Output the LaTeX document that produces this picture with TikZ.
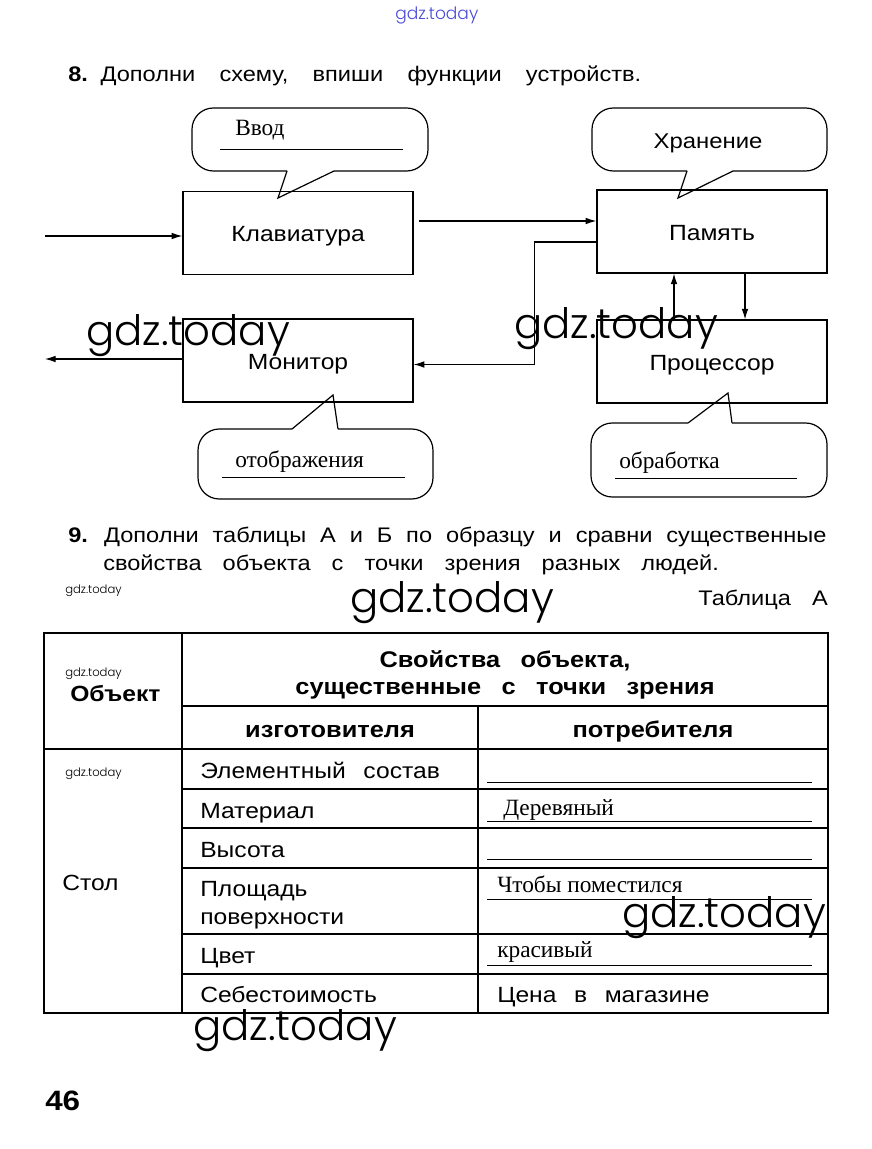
\documentclass[tikz,border=0pt]{standalone}
\usepackage{fontspec}
\setmainfont{Liberation Sans}[FakeStretch=1.12]
\newfontfamily\handfont{Liberation Serif}
\newfontfamily\wmfont{Poppins Light}
\usetikzlibrary{arrows.meta,positioning}
\definecolor{wmblue}{HTML}{4A4AD8}
\newcommand\widesp[1]{\spaceskip=#1em\relax}
\tikzset{
  devbox/.style={draw=black,line width=1.1pt,minimum width=172.5pt,minimum height=62pt,inner sep=0pt,text height=2.5ex,text depth=0pt,font=\fontsize{16.5}{20}\selectfont},
  flow/.style={-{Latex[length=8pt,width=5pt]},line width=.8pt},
  bubble/.style={line width=.9pt,rounded corners=16pt},
  ptr/.style={line width=.9pt},
  answer/.style={line width=.7pt},
  grid/.style={line width=1.1pt},
  task/.style={anchor=base west,inner sep=0pt,font={\fontsize{15.8}{19}\selectfont\widesp{1}}},
  cell/.style={anchor=base west,inner sep=0pt,font={\fontsize{16.5}{20}\selectfont\widesp{.8}}},
  head/.style={anchor=base,inner sep=0pt,font={\bfseries\fontsize{17}{20}\selectfont\widesp{.9}}},
  hand/.style={anchor=base west,inner sep=0pt,font={\handfont\fontsize{17.5}{20}\selectfont}},
  wmark/.style={anchor=base west,inner sep=0pt,font={\wmfont\fontsize{31.4}{34}\selectfont}},
  wsmall/.style={anchor=base west,inner sep=0pt,font={\wmfont\fontsize{8.7}{10}\selectfont}},
}

\begin{document}
\begin{tikzpicture}[x=0.75pt,y=-0.75pt]
  \useasboundingbox (0,0) rectangle (871,1149);
  % task 8: devices
  \node[wsmall,font={\wmfont\fontsize{12.8}{14}\selectfont},text=wmblue] (wtop) at (395,20) {gdz.today};
  \node[task,font={\fontsize{15.8}{19}\selectfont\widesp{1.15}}] (t8) at (68,82) {\textbf{8.}\hspace{.6em}Дополни схему, впиши функции устройств.};
  \node[devbox] (kbd) at (298,233) {Клавиатура};
  \node[devbox] (mon) at (298,360.5) {Монитор};
  \node[devbox] (mem) at (712,231.5) {Память};
  \node[devbox] (cpu) at (712,361.5) {Процессор};
  \coordinate (kin) at (45,236);
  \coordinate (mout) at (45,359);
  \draw[flow] (kin) -- (kin -| kbd.west);
  \draw[flow] (mout -| mon.west) -- (mout);
  \draw[flow] ([shift={(5,-12)}]kbd.east) -- ([shift={(0,-10.5)}]mem.west);
  \draw[flow] ([shift={(0,10.5)}]mem.west) -| ([shift={(121,4)}]mon.east) -- ([shift={(0,4)}]mon.east);
  \draw[flow] ([shift={(-38,0)}]cpu.north) -- ([shift={(-38,0)}]mem.south);
  \draw[flow] ([shift={(33,0)}]mem.south) -- ([shift={(33,0)}]cpu.north);
  % speech bubbles
  \foreach \xa/\xb/\yp/\yo/\ba/\bb/\tx/\ty in {192/428/171/108/287/334/278/198,592/827/171/108/687/733/678/198,198/433/429/499/292/338/333/395,591/827/423/497/688/732/728/393}{
    \draw[bubble] (\bb,\yp) -- (\xb,\yp) -- (\xb,\yo) -- (\xa,\yo) -- (\xa,\yp) -- (\ba,\yp);
    \draw[ptr] (\ba,\yp) -- (\tx,\ty) -- (\bb,\yp);
  }
  \node[hand] (fin) at (235,135) {Ввод};
  \node[anchor=base,inner sep=0pt,font=\fontsize{16}{19}\selectfont] (fstore) at (708,148) {Хранение};
  \node[hand] (fshow) at (235,467) {отображения};
  \node[hand] (fproc) at (619,468) {обработка};
  \draw[answer] (220,149) -- (403,149);
  \draw[answer] (222,477) -- (405,477);
  \draw[answer] (615,478) -- (797,478);
  \node[wmark] (w1) at (86,345) {gdz.today};
  \node[wmark] (w2) at (514,338) {gdz.today};
  % task 9: table A
  \node[task,font={\fontsize{15.8}{19}\selectfont\widesp{.66}}] (t9a) at (68,542) {\textbf{9.} Дополни таблицы А и Б по образцу и сравни существенные};
  \node[task] (t9b) at (103,570) {свойства объекта с точки зрения разных людей.};
  \node[wsmall] (w3) at (65,593) {gdz.today};
  \node[wmark] (w4) at (350,612) {gdz.today};
  \node[task,anchor=base east] (tabA) at (828,605) {Таблица А};
  \draw[grid] (44,633) rectangle (828,1013);
  \draw[grid] (182,633) -- (182,1013);
  \draw[grid] (182,706) -- (828,706);
  \draw[grid] (44,749) -- (828,749);
  \draw[grid] (478,706) -- (478,1013);
  \foreach \y in {789,828,868,934,974}{\draw[grid] (182,\y) -- (828,\y);}
  \foreach \y in {782,821,859,899,965}{\draw[answer] (487,\y) -- (812,\y);}
  \node[wsmall] (w5) at (65,676) {gdz.today};
  \node[head,anchor=base west,font={\bfseries\fontsize{16.5}{20}\selectfont}] (hobj) at (70,701) {Объект};
  \node[head] (hprop) at (505,667) {Свойства объекта,};
  \node[head] (hview) at (505,694) {существенные с точки зрения};
  \node[head] (hmaker) at (330,737) {изготовителя};
  \node[head] (huser) at (653,737) {потребителя};
  \node[wsmall] (w6) at (65,776) {gdz.today};
  \node[cell] (obj) at (62,890) {Стол};
  \foreach \lab/\y [count=\k] in {Элементный состав/778,Материал/818,Высота/857,Площадь/896,поверхности/924,Цвет/963,Себестоимость/1002}{
    \node[cell] (r\k) at (200,\y) {\lab};
  }
  \node[hand] (a2) at (503,815) {Деревяный};
  \node[hand] (a4) at (497,892) {Чтобы поместился};
  \node[hand] (a5) at (497,957) {красивый};
  \node[cell] (a6) at (497,1002) {Цена в магазине};
  \node[wmark] (w7) at (622,927) {gdz.today};
  \node[wmark] (w8) at (193,1040) {gdz.today};
  \node[anchor=base west,inner sep=0pt,font={\bfseries\fontsize{21}{26}\selectfont}] (page) at (45,1110) {46};
\end{tikzpicture}
\end{document}
